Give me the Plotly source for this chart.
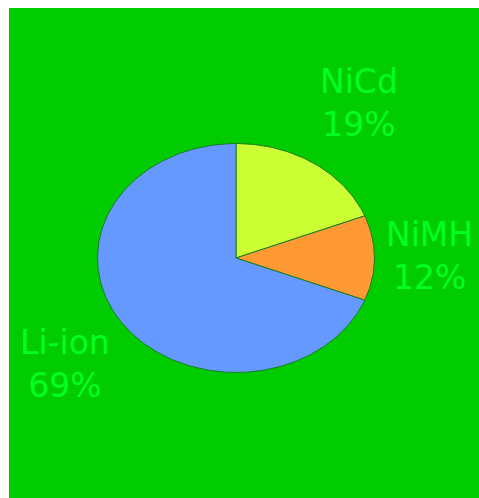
import numpy as np
import plotly.graph_objects as go

labels = ["NiCd", "NiMH", "Li-ion"]
values = [19, 12, 69]
colors = ["#ccff33", "#ff9933", "#6699ff"]

BG = "#00cc00"
TEXT = "#00ff22"
EDGE = "#1b7d1b"

W, H = 470, 490
CX, CY = 227, 250      # pie centre in figure pixels
RX, RY = 138.5, 114.5  # pie radii in pixels (elliptical)

fig = go.Figure()
total = float(sum(values))
cum = 0.0
for lab, v, c in zip(labels, values, colors):
    f0 = cum / total
    f1 = (cum + v) / total
    cum += v
    n = max(int((f1 - f0) * 360), 4)
    t = np.pi / 2 - 2 * np.pi * np.linspace(f0, f1, n)
    xs = np.concatenate([[0], np.cos(t), [0]])
    ys = np.concatenate([[0], np.sin(t), [0]])
    fig.add_trace(go.Scatter(x=xs, y=ys, mode="lines", fill="toself",
                             fillcolor=c, line=dict(color=EDGE, width=1),
                             hoverinfo="skip", showlegend=False))
    mid = np.pi / 2 - 2 * np.pi * (f0 + f1) / 2
    sx, sy = np.cos(mid), np.sin(mid)
    r = 1.1
    xa = "left" if sx > 0.2 else ("right" if sx < -0.2 else "center")
    ya = "bottom" if sy > 0.3 else ("top" if sy < -0.3 else "middle")
    pct = round(100 * v / total)
    fig.add_annotation(x=r * sx, y=r * sy, xref="x", yref="y",
                       text=f"{lab}<br>{pct}%", showarrow=False,
                       xanchor=xa, yanchor=ya, align="center",
                       yshift=(2 if ya == "middle" else 8),
                       xshift=(-4 if xa == "left" else 2),
                       font=dict(family="DejaVu Sans", size=33, color=TEXT))

fig.update_layout(
    width=W, height=H,
    margin=dict(l=0, r=0, t=0, b=0),
    paper_bgcolor=BG, plot_bgcolor=BG,
    xaxis=dict(range=[-CX / RX, (W - CX) / RX], visible=False, fixedrange=True),
    yaxis=dict(range=[-(H - CY) / RY, CY / RY], visible=False, fixedrange=True),
)
fig.write_html("out.html",
               post_script="document.body.style.margin='8px 0 0 9px';"
                           "document.body.style.overflow='hidden';")
